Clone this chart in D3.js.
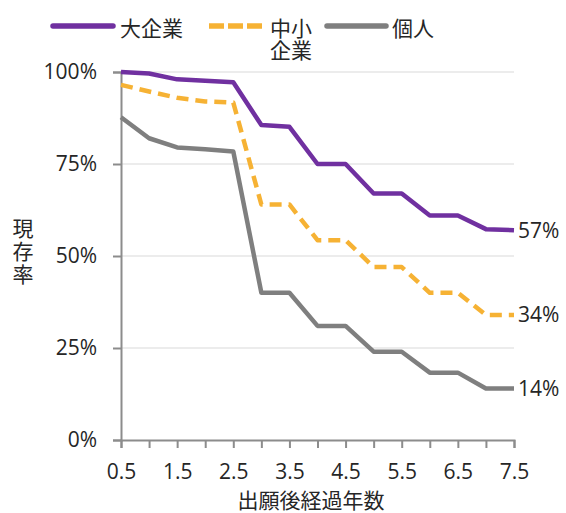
<!DOCTYPE html>
<html>
<head>
<meta charset="utf-8">
<script src="https://cdn.jsdelivr.net/npm/d3@7"></script>
<style>
  html, body { margin: 0; padding: 0; background: #fff; }
  svg { display: block; font-family: "Open Sans", "Noto Sans CJK JP", sans-serif; }
</style>
</head>
<body>
<svg id="chart" width="566" height="513"></svg>
<script>
// Years elapsed since filing
const years = [0.5, 1.0, 1.5, 2.0, 2.5, 3.0, 3.5, 4.0, 4.5, 5.0, 5.5, 6.0, 6.5, 7.0, 7.5];
const xTickLabels = [0.5, 1.5, 2.5, 3.5, 4.5, 5.5, 6.5, 7.5];
const yTicks = [0, 25, 50, 75, 100];

// Survival rate (%) per applicant type
const largeCorp = [100, 99.6, 98, 97.6, 97.2, 85.6, 85.1, 75, 75, 67, 67, 61, 61, 57.3, 57];
const smallCorp = [96.5, 94.7, 93, 92, 91.7, 64, 64, 54.3, 54.3, 47, 47, 40, 40, 34, 34];
const individual = [87.7, 82, 79.5, 79, 78.4, 40, 40, 31, 31, 24, 24, 18.3, 18.3, 14, 14];

const seriesNames = ["大企業", "中小企業", "個人"];
const endLabels = ["57%", "34%", "14%"];

const series = [
  { name: seriesNames[0], values: largeCorp, color: "#7030a0", dash: null, legendDash: null, end: endLabels[0] },
  { name: seriesNames[1], values: smallCorp, color: "#f6b234", dash: "12,7", legendDash: "15,4", end: endLabels[1] },
  { name: seriesNames[2], values: individual, color: "#7f7f7f", dash: null, legendDash: null, end: endLabels[2] }
];

const textColor = "#262626";
const latin = "'Open Sans', sans-serif";
const cjk = "'Noto Sans CJK JP', sans-serif";

const svg = d3.select("#chart");
const plotLeft = 121, plotRight = 514, plotTop = 72, plotBottom = 440;

const x = d3.scaleLinear().domain([0.5, 7.5]).range([plotLeft, plotRight]);
const y = d3.scaleLinear().domain([0, 100]).range([plotBottom, plotTop]);

// Horizontal gridlines
svg.append("g")
  .selectAll("line")
  .data(yTicks.filter(d => d > 0))
  .join("line")
  .attr("x1", plotLeft).attr("x2", plotRight)
  .attr("y1", d => y(d)).attr("y2", d => y(d))
  .attr("stroke", "#e6e6e6").attr("stroke-width", 1.5);

// Y axis
const yAxis = svg.append("g")
  .attr("transform", `translate(${plotLeft},0)`)
  .call(d3.axisLeft(y).tickValues(yTicks).tickFormat(d => d + "%").tickSize(8).tickPadding(16));
yAxis.select(".domain").attr("stroke", "#8c8c8c").attr("stroke-width", 2);
yAxis.selectAll(".tick line").attr("stroke", "#8c8c8c").attr("stroke-width", 2);
yAxis.selectAll(".tick text")
  .attr("font-size", 21).attr("fill", textColor)
  .attr("font-family", latin);

// X axis: ticks every half year, labels on odd halves
const xAxis = svg.append("g")
  .attr("transform", `translate(0,${plotBottom})`)
  .call(d3.axisBottom(x).tickValues(years)
    .tickFormat(d => xTickLabels.includes(d) ? d3.format(".1f")(d) : "")
    .tickSize(8).tickPadding(16));
xAxis.select(".domain").attr("stroke", "#8c8c8c").attr("stroke-width", 2);
xAxis.selectAll(".tick line").attr("stroke", "#8c8c8c").attr("stroke-width", 2);
xAxis.selectAll(".tick text")
  .attr("font-size", 21).attr("fill", textColor)
  .attr("font-family", latin);

// Series lines with end-of-line values
const line = d3.line().x((d, i) => x(years[i])).y(d => y(d));
series.forEach(s => {
  svg.append("path")
    .datum(s.values)
    .attr("d", line)
    .attr("fill", "none")
    .attr("stroke", s.color)
    .attr("stroke-width", 4.5)
    .attr("stroke-linejoin", "round")
    .attr("stroke-dasharray", s.dash);
  svg.append("text")
    .attr("x", x(years[years.length - 1]) + 4)
    .attr("y", y(s.values[s.values.length - 1]))
    .attr("dy", "0.36em")
    .attr("font-size", 21)
    .attr("font-family", latin)
    .attr("fill", textColor)
    .text(s.end);
});

// Axis titles
svg.append("text")
  .attr("x", 311).attr("y", 508)
  .attr("text-anchor", "middle")
  .attr("font-size", 21).attr("fill", textColor)
  .attr("font-family", cjk)
  .text("出願後経過年数");

// Vertical (stacked) y-axis title
svg.append("text")
  .attr("x", 23).attr("y", 252)
  .attr("writing-mode", "vertical-rl")
  .attr("text-anchor", "middle")
  .attr("letter-spacing", 2)
  .attr("font-size", 21).attr("fill", textColor)
  .attr("font-family", cjk)
  .text("現存率");

// Legend
const legend = [
  { x1: 53, x2: 113, tx: 120, s: series[0], lines: ["大企業"] },
  { x1: 209, x2: 263, tx: 270, s: series[1], lines: ["中小", "企業"] },
  { x1: 327, x2: 386, tx: 392, s: series[2], lines: ["個人"] }
];
legend.forEach(l => {
  svg.append("line")
    .attr("x1", l.x1).attr("x2", l.x2).attr("y1", 26).attr("y2", 26)
    .attr("stroke", l.s.color).attr("stroke-width", 5.5)
    .attr("stroke-linecap", l.s.legendDash ? "butt" : "round")
    .attr("stroke-dasharray", l.s.legendDash);
  const t = svg.append("text")
    .attr("font-size", 21).attr("fill", textColor)
    .attr("font-family", cjk);
  l.lines.forEach((ln, i) => {
    t.append("tspan").attr("x", l.tx).attr("y", 36 + i * 22).text(ln);
  });
});
</script>
</body>
</html>
